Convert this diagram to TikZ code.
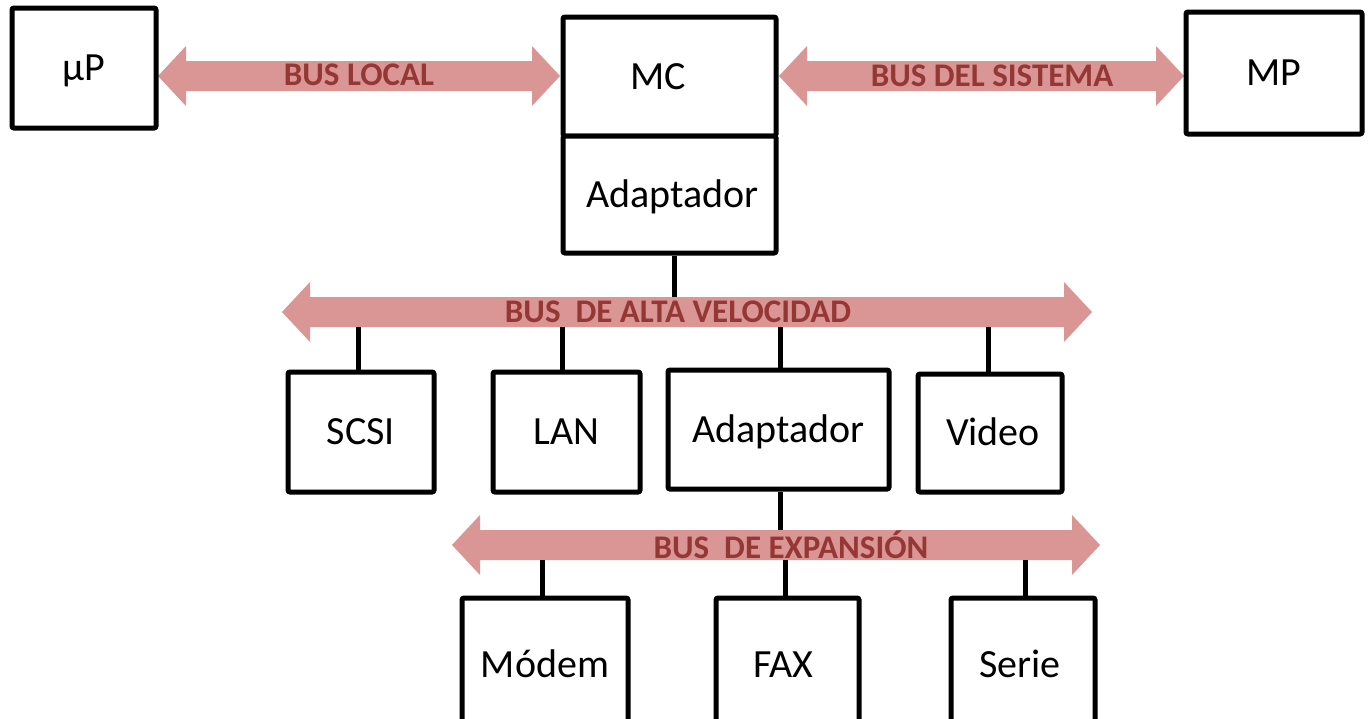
\documentclass[tikz,border=0pt]{standalone}
\usepackage{fontspec}
\setmainfont{Carlito}
\definecolor{busfill}{HTML}{D99694}
\definecolor{bustext}{HTML}{953735}
\tikzset{
  unit/.style={draw=black, line width=5pt, rounded corners=2pt, fill=white,
    inner sep=0pt, text height=25.6pt, text depth=0pt,
    font=\fontsize{40}{48}\selectfont},
  link/.style={draw=black, line width=5pt},
  buslabel/.style={text=bustext, inner sep=0pt,
    font=\fontsize{33}{39}\selectfont\bfseries},
  busbody/.style={fill=busfill}
}
% double-headed bus arrow: name, left x, right x, centre y
\newcommand\busarrow[4]{%
  \fill[busbody] (#2,#4) -- (#2+28,#4-30) -- (#2+28,#4-15) -- (#3-28,#4-15)
    -- (#3-28,#4-30) -- (#3,#4) -- (#3-28,#4+30) -- (#3-28,#4+15)
    -- (#2+28,#4+15) -- (#2+28,#4+30) -- cycle;
  \coordinate (#1-top) at (0,#4-15);
  \coordinate (#1-bot) at (0,#4+15);
}
\begin{document}
\begin{tikzpicture}[x=1pt,y=-1pt]
  \useasboundingbox (0,0) rectangle (1368,718);
  \clip (0,0) rectangle (1368,718);

  % buses
  \busarrow{bl}{158}{560}{76}
  \busarrow{bs}{779}{1184}{76}
  \busarrow{ba}{282}{1092}{312}
  \busarrow{be}{452}{1100}{545}
  \node[buslabel] (lbl) at (359,75) {BUS LOCAL};
  \node[buslabel] (lbs) at (992,76) {BUS DEL SISTEMA};
  \node[buslabel] (lba) at (678,312) {BUS\ \ DE ALTA VELOCIDAD};
  \node[buslabel] (lbe) at (791,545) {BUS\ \ DE EXPANSIÓN};

  % top row
  \node[unit, minimum width=144pt, minimum height=120pt] (up) at (84,68) {µP};
  \node[unit, minimum width=213pt, minimum height=119pt] (mc) at (669.5,76.5) {\hspace*{-22pt}MC};
  \node[unit, minimum width=213pt, minimum height=117pt] (ad1) at (669.5,194.5) {\hspace*{6pt}Adaptador};
  \node[unit, minimum width=176pt, minimum height=122pt] (mp) at (1274,73) {MP};

  % high-speed bus devices
  \node[unit, minimum width=146pt, minimum height=120pt] (scsi) at (361,432) {SCSI};
  \node[unit, minimum width=147pt, minimum height=120pt] (lan) at (566.5,432) {LAN};
  \node[unit, minimum width=221pt, minimum height=119pt] (ad2) at (778.5,429.5) {Adaptador};
  \node[unit, minimum width=144pt, minimum height=118pt] (video) at (990,433) {\hspace*{6pt}Video};

  % expansion bus devices
  \node[unit, minimum width=166pt, minimum height=134pt] (modem) at (545,665) {Módem};
  \node[unit, minimum width=143pt, minimum height=134pt] (fax) at (787.5,665) {\hspace*{-8pt}FAX};
  \node[unit, minimum width=144pt, minimum height=134pt] (serie) at (1023,665) {\hspace*{-6pt}Serie};

  % taps onto the buses
  \draw[link] (ad1.south -| 674,0) -- (ba-top -| 674,0);
  \draw[link] (ba-bot -| 358,0) -- (scsi.north -| 358,0);
  \draw[link] (ba-bot -| 562,0) -- (lan.north -| 562,0);
  \draw[link] (ba-bot -| 780,0) -- (ad2.north -| 780,0);
  \draw[link] (ba-bot -| 988,0) -- (video.north -| 988,0);
  \draw[link] (ad2.south -| 780,0) -- (be-top -| 780,0);
  \draw[link] (be-bot -| 542,0) -- (modem.north -| 542,0);
  \draw[link] (be-bot -| 785,0) -- (fax.north -| 785,0);
  \draw[link] (be-bot -| 1025,0) -- (serie.north -| 1025,0);
\end{tikzpicture}
\end{document}
